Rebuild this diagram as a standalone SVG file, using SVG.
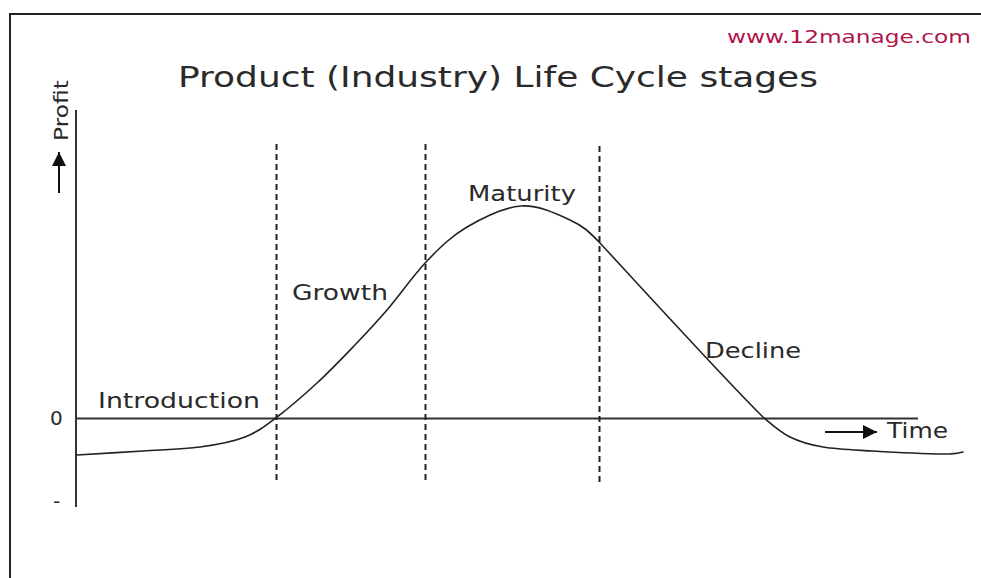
<svg xmlns="http://www.w3.org/2000/svg" width="981" height="578" viewBox="0 0 981 578">
<style>
.t{font-family:"DejaVu Sans","Liberation Sans",sans-serif;fill:#2a2a2a;}
.ax{stroke:#333;stroke-width:2;fill:none;}
.dash{stroke:#222;stroke-width:2;stroke-dasharray:6 4;fill:none;}
.curve{stroke:#222;stroke-width:1.6;fill:none;stroke-linejoin:round;stroke-linecap:round;}
</style>
<defs>
<marker id="ah" viewBox="0 0 10 10" refX="10" refY="5" markerWidth="16" markerHeight="14" markerUnits="userSpaceOnUse" orient="auto">
<path d="M0,0 L10,5 L0,10 Z" fill="#111"/>
</marker>
</defs>
<rect x="0" y="0" width="981" height="578" fill="#fff"/>
<g id="frame">
<path d="M10,578 L10,14 L981,14" stroke="#222" stroke-width="2" fill="none"/>
</g>
<g id="title">
<text class="t" x="178" y="87" font-size="29" textLength="640" lengthAdjust="spacingAndGlyphs">Product (Industry) Life Cycle stages</text>
<text x="727" y="43" font-size="17" font-family="DejaVu Sans,Liberation Sans,sans-serif" fill="#b0144a" textLength="244" lengthAdjust="spacingAndGlyphs">www.12manage.com</text>
</g>
<g id="axes">
<line class="ax" x1="76" y1="110" x2="76" y2="507"/>
<line class="ax" x1="76" y1="418.5" x2="918" y2="418.5"/>
<text class="t" x="50" y="425" font-size="20">0</text>
<text class="t" x="53" y="508" font-size="20">-</text>
<text class="t" font-size="19" transform="translate(68,141) rotate(-90)" textLength="61" lengthAdjust="spacingAndGlyphs">Profit</text>
<text class="t" x="887" y="438" font-size="22" textLength="61" lengthAdjust="spacingAndGlyphs">Time</text>
</g>
<g id="connectors">
<line x1="59" y1="193" x2="59" y2="152" stroke="#111" stroke-width="2" marker-end="url(#ah)"/>
<line x1="825" y1="432" x2="877" y2="432" stroke="#111" stroke-width="2" marker-end="url(#ah)"/>
<line class="dash" x1="276.5" y1="144" x2="276.5" y2="480"/>
<line class="dash" x1="425.5" y1="144" x2="425.5" y2="480"/>
<line class="dash" x1="599.5" y1="146" x2="599.5" y2="482"/>
<path class="curve" d="M77,455 C88,454.3 122.5,452.3 143,451 C163.5,449.7 183,449.3 200,447 C217,444.7 232.2,442 245,437 C257.8,432 265,426 277,417 C289,408 304.3,394.7 317,383 C329.7,371.3 341.3,359.2 353,347 C364.7,334.8 374.7,324.3 387,310 C399.3,295.7 413.7,274.8 427,261 C440.3,247.2 451.3,236.2 467,227 C482.7,217.8 503.8,207.2 521,206 C538.2,204.8 556.8,213.8 570,220 C583.2,226.2 588.3,230.8 600,243 C625,270 730,385 763,417 C774.2,426.5 780,432 790,437 C800,442 809.2,444.7 823,447 C836.8,449.3 853,449.8 873,451 C893,452.2 928,453.8 943,454 C958,454.2 959.7,452.3 963,452"/>
</g>
<g id="stage-introduction"><text class="t" x="98" y="408" font-size="22" textLength="162" lengthAdjust="spacingAndGlyphs">Introduction</text></g>
<g id="stage-growth"><text class="t" x="292" y="300" font-size="22" textLength="96" lengthAdjust="spacingAndGlyphs">Growth</text></g>
<g id="stage-maturity"><text class="t" x="468" y="201" font-size="22" textLength="108" lengthAdjust="spacingAndGlyphs">Maturity</text></g>
<g id="stage-decline"><text class="t" x="705" y="358" font-size="22" textLength="96" lengthAdjust="spacingAndGlyphs">Decline</text></g>
</svg>
